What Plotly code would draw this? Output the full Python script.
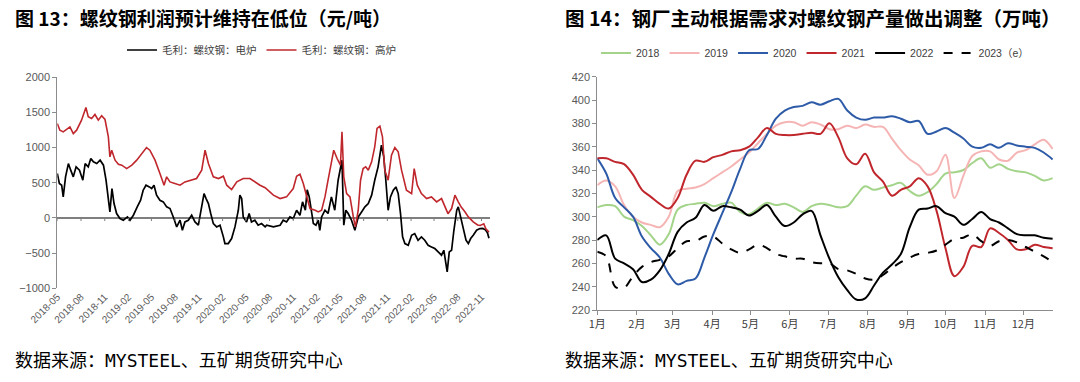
import pandas as pd
import plotly.graph_objects as go

# ---------------- Left chart data (days since 2018-05-01, 元/吨) ----------------
left_start = "2018-05-01"
blast_days = [0, 10, 23, 36, 49, 62, 75, 94, 111, 120, 133, 146, 159, 172, 185, 198, 204, 211, 224, 237,
              250, 269, 289, 308, 327, 346, 359, 379, 398, 414, 424, 437, 456, 476, 495, 514, 540, 560,
              573, 586, 605, 625, 644, 657, 676, 696, 721, 747, 773, 786, 806, 838, 864, 889, 915, 928,
              941, 954, 967, 980, 1000, 1012, 1025, 1038, 1050, 1063, 1072, 1085, 1098, 1104, 1111,
              1122, 1135, 1148, 1156, 1167, 1176, 1186, 1196, 1206, 1219, 1231, 1240, 1251, 1261, 1270,
              1283, 1296, 1309, 1322, 1335, 1354, 1374, 1384, 1396, 1412, 1432, 1451, 1471, 1490, 1505,
              1515, 1529, 1542, 1555, 1567, 1580, 1594, 1613, 1630, 1640, 1654, 1662, 1674]
blast_vals = [1343, 1248, 1224, 1257, 1295, 1200, 1248, 1390, 1570, 1438, 1414, 1471, 1390, 1452, 1400,
              1153, 868, 963, 821, 764, 750, 702, 750, 821, 916, 1001, 963, 821, 631, 465, 584, 512, 489,
              465, 512, 536, 560, 679, 963, 773, 584, 560, 593, 465, 403, 512, 560, 560, 489, 465, 430,
              323, 275, 299, 418, 593, 622, 489, 308, 133, 109, 85, 109, 299, 536, 821, 963, 845, 750,
              1224, 584, 346, 299, 14, -128, 109, 536, 702, 726, 679, 797, 1011, 1272, 1305, 1153, 679,
              536, 892, 1001, 940, 679, 394, 346, 702, 465, 346, 275, 299, 228, 275, 160, 60, 133, 323,
              228, 150, 90, 14, -57, -100, -108, -85, -155, -202]

eaf_days = [0, 8, 17, 23, 32, 43, 52, 62, 73, 86, 99, 108, 120, 130, 140, 153, 166, 179, 189, 198, 204,
            212, 220, 230, 243, 256, 272, 282, 295, 310, 323, 333, 344, 357, 366, 375, 385, 398, 411, 424,
            437, 452, 463, 476, 485, 495, 508, 521, 534, 547, 560, 569, 577, 586, 595, 605, 618, 631, 644,
            650, 663, 676, 689, 702, 708, 715, 721, 734, 744, 753, 766, 779, 792, 806, 812, 838, 864, 876,
            889, 902, 915, 928, 941, 951, 962, 969, 977, 986, 993, 1003, 1012, 1018, 1025, 1038, 1050,
            1063, 1076, 1089, 1098, 1104, 1111, 1119, 1128, 1141, 1154, 1167, 1180, 1193, 1206, 1219,
            1231, 1244, 1257, 1266, 1274, 1283, 1292, 1303, 1313, 1322, 1331, 1339, 1348, 1361, 1374,
            1386, 1399, 1412, 1425, 1438, 1451, 1464, 1477, 1490, 1499, 1507, 1512, 1520, 1529, 1538,
            1549, 1555, 1564, 1575, 1585, 1594, 1603, 1613, 1626, 1639, 1650, 1660, 1668, 1674]
eaf_vals = [631, 489, 465, 299, 584, 773, 679, 584, 726, 679, 536, 773, 726, 845, 797, 773, 821, 750, 536,
            299, 85, 418, 204, 62, -9, -33, 14, -33, 38, 157, 251, 394, 465, 441, 418, 465, 323, 251, 228,
            157, 133, -9, -128, -33, -176, -57, -33, 38, -57, -104, 157, 346, 275, 204, 62, -81, -128, -104,
            -270, -365, -365, -294, -128, 109, 323, 275, 14, -57, 62, -57, -33, -104, -81, -128, -104, -128,
            -104, -33, -57, 14, -9, 109, 38, 228, 109, 400, 299, 62, -81, -104, -33, -176, 14, 109, 62,
            299, 109, 536, 679, 820, -104, 109, 62, -33, -176, 14, 85, 157, 204, 323, 536, 726, 1034, 868,
            536, 109, 299, 394, 441, 346, 62, -270, -365, -389, -247, -223, -318, -270, -318, -389, -413,
            -436, -484, -531, -460, -697, -769, -484, -460, -176, 109, 157, 14, -128, -318, -365, -294,
            -247, -176, -152, -150, -170, -210, -290]

left_tick_dates = ["2018-05-01", "2018-08-01", "2018-11-01", "2019-02-01", "2019-05-01", "2019-08-01",
                   "2019-11-01", "2020-02-01", "2020-05-01", "2020-08-01", "2020-11-01", "2021-02-01",
                   "2021-05-01", "2021-08-01", "2021-11-01", "2022-02-01", "2022-05-01", "2022-08-01",
                   "2022-11-01"]
left_tick_text = [d[:7] for d in left_tick_dates]
left_y_ticks = [2000, 1500, 1000, 500, 0, -500, -1000]

# ---------------- Right chart data (weekly, 万吨) ----------------
week_days = list(range(0, 358, 7))  # day of year of each weekly observation
month_days = [0, 31, 59, 90, 120, 151, 181, 212, 243, 273, 304, 334]
month_labels = ["1月", "2月", "3月", "4月", "5月", "6月", "7月", "8月", "9月", "10月", "11月", "12月"]

y2018 = [308, 310, 309, 300, 297, 292, 284, 276, 285, 306, 310, 311, 312, 309, 311, 312, 304, 302, 307,
         312, 310, 311, 308, 304, 309, 311, 310, 308, 309, 318, 326, 323, 325, 327, 329, 322, 318, 321,
         328, 337, 338, 340, 346, 350, 342, 345, 341, 339, 338, 335, 331, 333]
y2019 = [327, 331, 326, 310, 300, 295, 293, 291, 300, 322, 324, 325, 328, 333, 338, 343, 349, 355, 363,
         371, 378, 381, 381, 378, 381, 379, 375, 375, 378, 376, 379, 377, 377, 367, 357, 349, 344, 336,
         339, 353, 316, 335, 352, 356, 356, 349, 348, 355, 357, 362, 366, 358]
y2020 = [350, 337, 316, 308, 300, 283, 273, 265, 251, 242, 245, 247, 265, 285, 303, 321, 341, 357, 358,
         370, 384, 391, 394, 395, 398, 396, 399, 401, 391, 385, 383, 385, 385, 386, 384, 381, 382, 371,
         373, 376, 372, 367, 360, 359, 362, 359, 363, 361, 360, 359, 355, 349]
y2021 = [350, 350, 347, 345, 336, 323, 317, 311, 307, 316, 336, 348, 347, 351, 353, 356, 357, 360, 368,
         376, 371, 370, 370, 371, 372, 371, 380, 368, 350, 345, 354, 338, 330, 318, 323, 326, 333, 326,
         305, 273, 249, 257, 275, 274, 290, 286, 280, 272, 272, 276, 274, 273]
y2022 = [280, 284, 264, 260, 255, 244, 246, 254, 268, 287, 295, 299, 310, 305, 309, 308, 306, 301, 305,
         310, 300, 292, 295, 302, 305, 284, 264, 248, 237, 229, 230, 241, 252, 259, 268, 291, 306, 307,
         309, 303, 300, 293, 298, 304, 298, 295, 290, 285, 284, 284, 282, 281]
y2023e = [270, 266, 240, 239, 249, 257, 261, 263, 266, 273, 279, 279, 283, 283, 277, 272, 269, 272, 276,
          273, 268, 266, 264, 264, 261, 260, 260, 255, 254, 251, 247, 246, 250, 256, 261, 265, 268, 269,
          271, 276, 281, 282, 285, 279, 275, 279, 280, 278, 274, 270, 266, 261]
right_y_ticks = list(range(220, 421, 20))

series_names = ["2018", "2019", "2020", "2021", "2022", "2023（e）"]
series_vals = [y2018, y2019, y2020, y2021, y2022, y2023e]
series_colors = ["#A3D48A", "#F6B5B5", "#2E5BA8", "#C0272D", "#000000", "#000000"]
series_dash = ["solid", "solid", "solid", "solid", "solid", "dash"]

# ---------------- Figure ----------------
W, H = 1080, 382
CJK = "Noto Sans CJK SC"
TICKF = dict(family="Liberation Sans, Arial, sans-serif", size=11, color="#595959")
AX = "#8C8C8C"

def px_x(p):
    return p / W

def px_y(p):
    return 1 - p / H

start = pd.Timestamp(left_start)
blast_dates = [start + pd.Timedelta(days=d) for d in blast_days]
eaf_dates = [start + pd.Timedelta(days=d) for d in eaf_days]

fig = go.Figure()
fig.add_trace(go.Scatter(x=eaf_dates, y=eaf_vals, mode="lines", name="毛利：螺纹钢：电炉",
                         line=dict(color="#000000", width=1.7), xaxis="x", yaxis="y", legend="legend"))
fig.add_trace(go.Scatter(x=blast_dates, y=blast_vals, mode="lines", name="毛利：螺纹钢：高炉",
                         line=dict(color="#C0272D", width=1.6), xaxis="x", yaxis="y", legend="legend"))

for name, vals, col, dash in zip(series_names, series_vals, series_colors, series_dash):
    fig.add_trace(go.Scatter(x=week_days, y=vals, mode="lines", name=name,
                             line=dict(color=col, width=2, dash=dash, shape="spline", smoothing=1.0),
                             xaxis="x2", yaxis="y2", legend="legend2"))

left_end = start + pd.Timedelta(days=1678)

fig.update_layout(
    template="none",
    width=W, height=H,
    margin=dict(l=0, r=0, t=0, b=0, autoexpand=False),
    paper_bgcolor="white", plot_bgcolor="white",
    font=dict(family=CJK, color="#404040"),
    xaxis=dict(domain=[px_x(57.3), px_x(490)], range=[start, left_end], anchor="y", automargin=False,
               tickmode="array", tickvals=left_tick_dates, ticktext=left_tick_text, tickangle=-45,
               showline=False, showgrid=False, zeroline=False, ticks="",
               tickfont=dict(family="Liberation Sans, Arial, sans-serif", size=10, color="#595959")),
    yaxis=dict(domain=[px_y(288.2), px_y(77.3)], range=[-1000, 2000], anchor="x", automargin=False,
               tickmode="array", tickvals=left_y_ticks, showgrid=False,
               showline=True, linecolor=AX, linewidth=1, ticks="outside", ticklen=4, tickcolor=AX,
               zeroline=True, zerolinecolor="#7F7F7F", zerolinewidth=1.5, tickfont=TICKF),
    xaxis2=dict(domain=[px_x(597.3), px_x(1053)], range=[0, 357.3], anchor="y2", automargin=False,
                tickmode="array", tickvals=month_days, ticktext=month_labels,
                showline=True, linecolor=AX, linewidth=1, ticks="outside", ticklen=4, tickcolor=AX,
                showgrid=False, zeroline=False,
                tickfont=dict(family=CJK, size=11, color="#404040")),
    yaxis2=dict(domain=[px_y(310), px_y(76.7)], range=[220, 420], anchor="x2", automargin=False,
                tickmode="array", tickvals=right_y_ticks, showgrid=False,
                showline=True, linecolor=AX, linewidth=1, ticks="outside", ticklen=4, tickcolor=AX,
                zeroline=False, tickfont=TICKF),
    legend=dict(orientation="h", x=px_x(122), y=px_y(50), xanchor="left", yanchor="middle",
                font=dict(family=CJK, size=10.5, color="#404040"), itemwidth=30,
                bgcolor="rgba(0,0,0,0)", tracegroupgap=0),
    legend2=dict(orientation="h", x=px_x(596), y=px_y(53), xanchor="left", yanchor="middle",
                 font=dict(family="Liberation Sans, " + CJK, size=10.5, color="#404040"), itemwidth=30,
                 bgcolor="rgba(0,0,0,0)"),
    showlegend=True,
)

# tick marks on the zero line of the left chart
for d in left_tick_dates:
    fig.add_shape(type="line", xref="x", yref="y", x0=d, x1=d, y0=0, y1=-45,
                  line=dict(color="#7F7F7F", width=1))

# titles and sources
fig.add_annotation(text="<b>图 13：螺纹钢利润预计维持在低位（元/吨）</b>", xref="paper", yref="paper",
                   x=px_x(13), y=px_y(17), xanchor="left", yanchor="middle", showarrow=False,
                   font=dict(family=CJK, size=19, color="#000000"))
fig.add_annotation(text="<b>图 14：钢厂主动根据需求对螺纹钢产量做出调整（万吨）</b>", xref="paper", yref="paper",
                   x=px_x(563), y=px_y(17), xanchor="left", yanchor="middle", showarrow=False,
                   font=dict(family=CJK, size=19.5, color="#000000"))
for xp in (13, 563):
    fig.add_annotation(text="数据来源：MYSTEEL、五矿期货研究中心", xref="paper", yref="paper",
                       x=px_x(xp), y=px_y(360), xanchor="left", yanchor="middle", showarrow=False,
                       font=dict(family="DejaVu Sans Mono, " + CJK, size=18, color="#000000"))

fig.write_html("out.html", config={"displayModeBar": False},
               post_script="document.body.style.margin='0';document.body.style.overflow='hidden';")
